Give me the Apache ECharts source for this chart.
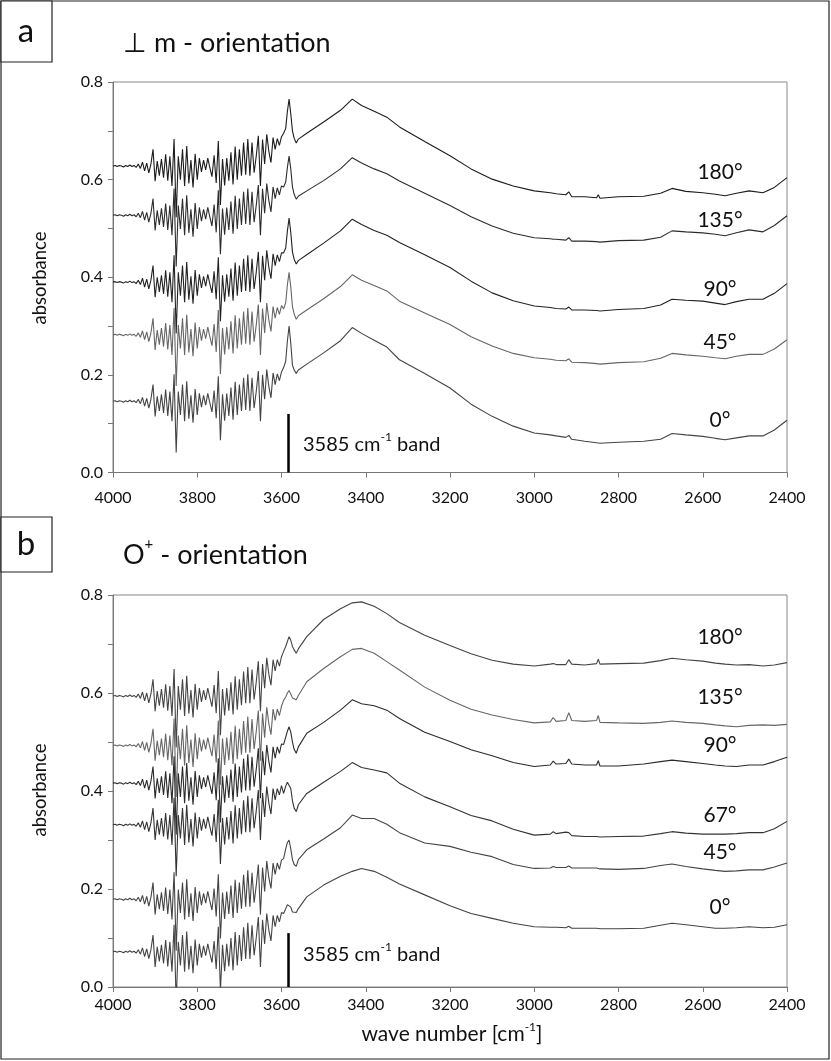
<!DOCTYPE html>
<html>
<head>
<meta charset="utf-8">
<title>IR spectra</title>
<script src="https://cdn.jsdelivr.net/npm/echarts@6/dist/echarts.min.js"></script>
<style>
  html, body { margin: 0; padding: 0; background: #fff; }
  #chart { width: 831px; height: 1061px; }
</style>
</head>
<body>
<div id="chart"></div>
<script>
// wave numbers (cm-1), shared by every spectrum
const wave = [
  4000, 3995, 3990, 3985, 3980, 3975, 3970, 3965, 3960, 3955,
  3950, 3945, 3940, 3935, 3930, 3925, 3920, 3915, 3910, 3905,
  3900, 3895, 3890, 3885, 3880, 3875, 3870, 3865, 3860, 3855,
  3850, 3845, 3840, 3835, 3830, 3825, 3820, 3815, 3810, 3805,
  3800, 3795, 3790, 3785, 3780, 3775, 3770, 3765, 3760, 3755,
  3750, 3745, 3740, 3735, 3730, 3725, 3720, 3715, 3710, 3705,
  3700, 3695, 3690, 3685, 3680, 3675, 3670, 3665, 3660, 3655,
  3650, 3645, 3640, 3635, 3630, 3625, 3620, 3615, 3610, 3605,
  3600,
  3595, 3590, 3586, 3582, 3578, 3574, 3570, 3565, 3560, 3540,
  3500, 3460, 3432, 3410, 3380, 3350, 3320, 3260, 3200, 3150,
  3100, 3050, 3000, 2962, 2955, 2948, 2925, 2918, 2911, 2880,
  2852, 2848, 2844, 2800, 2740, 2700, 2673, 2640, 2600, 2570,
  2547, 2520, 2490, 2457, 2430, 2400
]

// panel a : perpendicular to m
const a180 = [
  0.628, 0.629, 0.627, 0.629, 0.628, 0.626, 0.629, 0.627, 0.630, 0.627,
  0.629, 0.625, 0.632, 0.623, 0.636, 0.618, 0.634, 0.614, 0.632, 0.662,
  0.597, 0.638, 0.608, 0.642, 0.604, 0.652, 0.598, 0.648, 0.587, 0.683,
  0.523, 0.648, 0.600, 0.662, 0.587, 0.669, 0.592, 0.640, 0.584, 0.653,
  0.600, 0.644, 0.616, 0.640, 0.620, 0.644, 0.624, 0.606, 0.650, 0.593,
  0.679, 0.548, 0.642, 0.588, 0.644, 0.598, 0.656, 0.590, 0.668, 0.600,
  0.662, 0.608, 0.676, 0.610, 0.683, 0.608, 0.676, 0.614, 0.648, 0.690,
  0.587, 0.682, 0.632, 0.693, 0.658, 0.635, 0.686, 0.662, 0.684, 0.670,
  0.688,
  0.695, 0.705, 0.740, 0.765, 0.735, 0.700, 0.685, 0.675, 0.683, 0.695,
  0.718, 0.742, 0.765, 0.752, 0.740, 0.728, 0.708, 0.678, 0.649, 0.622,
  0.601, 0.587, 0.577, 0.573, 0.572, 0.571, 0.569, 0.575, 0.565, 0.565,
  0.563, 0.569, 0.562, 0.565, 0.566, 0.572, 0.582, 0.576, 0.573, 0.570,
  0.567, 0.572, 0.577, 0.573, 0.584, 0.604
]
const a135 = [
  0.527, 0.528, 0.526, 0.528, 0.527, 0.525, 0.528, 0.526, 0.529, 0.526,
  0.528, 0.524, 0.531, 0.522, 0.535, 0.517, 0.533, 0.513, 0.531, 0.561,
  0.496, 0.537, 0.507, 0.541, 0.503, 0.551, 0.497, 0.547, 0.486, 0.582,
  0.422, 0.547, 0.499, 0.561, 0.486, 0.568, 0.491, 0.539, 0.483, 0.552,
  0.499, 0.543, 0.515, 0.539, 0.519, 0.543, 0.523, 0.505, 0.549, 0.492,
  0.578, 0.447, 0.541, 0.487, 0.543, 0.497, 0.555, 0.489, 0.567, 0.499,
  0.561, 0.507, 0.575, 0.509, 0.582, 0.507, 0.575, 0.513, 0.547, 0.589,
  0.486, 0.581, 0.531, 0.592, 0.557, 0.534, 0.585, 0.561, 0.583, 0.569,
  0.587,
  0.585, 0.595, 0.625, 0.648, 0.622, 0.585, 0.570, 0.560, 0.566, 0.577,
  0.598, 0.622, 0.645, 0.634, 0.622, 0.612, 0.597, 0.572, 0.547, 0.524,
  0.505, 0.490, 0.481, 0.479, 0.478, 0.478, 0.476, 0.481, 0.474, 0.474,
  0.473, 0.477, 0.472, 0.475, 0.476, 0.482, 0.495, 0.493, 0.491, 0.488,
  0.485, 0.491, 0.497, 0.493, 0.506, 0.526
]
const a90 = [
  0.390, 0.391, 0.389, 0.391, 0.390, 0.388, 0.391, 0.389, 0.392, 0.389,
  0.391, 0.387, 0.394, 0.385, 0.398, 0.380, 0.396, 0.376, 0.394, 0.424,
  0.359, 0.400, 0.370, 0.404, 0.366, 0.414, 0.360, 0.410, 0.349, 0.445,
  0.285, 0.410, 0.362, 0.424, 0.349, 0.431, 0.354, 0.402, 0.346, 0.415,
  0.362, 0.406, 0.378, 0.402, 0.382, 0.406, 0.386, 0.368, 0.412, 0.355,
  0.441, 0.310, 0.404, 0.350, 0.406, 0.360, 0.418, 0.352, 0.430, 0.362,
  0.424, 0.370, 0.438, 0.372, 0.445, 0.370, 0.438, 0.376, 0.410, 0.452,
  0.349, 0.444, 0.394, 0.455, 0.420, 0.397, 0.448, 0.424, 0.446, 0.432,
  0.450,
  0.450, 0.460, 0.495, 0.521, 0.492, 0.452, 0.437, 0.427, 0.434, 0.446,
  0.470, 0.495, 0.519, 0.508, 0.496, 0.486, 0.471, 0.446, 0.420, 0.392,
  0.368, 0.352, 0.341, 0.338, 0.337, 0.336, 0.335, 0.339, 0.333, 0.333,
  0.332, 0.336, 0.331, 0.334, 0.336, 0.343, 0.355, 0.353, 0.351, 0.347,
  0.344, 0.350, 0.355, 0.355, 0.367, 0.387
]
const a45 = [
  0.282, 0.283, 0.281, 0.283, 0.282, 0.280, 0.283, 0.281, 0.284, 0.281,
  0.283, 0.279, 0.286, 0.277, 0.290, 0.272, 0.288, 0.268, 0.286, 0.316,
  0.251, 0.292, 0.262, 0.296, 0.258, 0.306, 0.252, 0.302, 0.241, 0.337,
  0.177, 0.302, 0.254, 0.316, 0.241, 0.323, 0.246, 0.294, 0.238, 0.307,
  0.254, 0.298, 0.270, 0.294, 0.274, 0.298, 0.278, 0.260, 0.304, 0.247,
  0.333, 0.202, 0.296, 0.242, 0.298, 0.252, 0.310, 0.244, 0.322, 0.254,
  0.316, 0.262, 0.330, 0.264, 0.337, 0.262, 0.330, 0.268, 0.302, 0.344,
  0.241, 0.336, 0.286, 0.347, 0.312, 0.289, 0.340, 0.316, 0.338, 0.324,
  0.342,
  0.335, 0.348, 0.385, 0.410, 0.380, 0.340, 0.325, 0.314, 0.321, 0.333,
  0.356, 0.381, 0.405, 0.394, 0.383, 0.372, 0.351, 0.327, 0.303, 0.278,
  0.259, 0.244, 0.235, 0.232, 0.231, 0.230, 0.229, 0.233, 0.226, 0.225,
  0.223, 0.227, 0.222, 0.225, 0.227, 0.234, 0.244, 0.241, 0.238, 0.235,
  0.233, 0.238, 0.242, 0.242, 0.253, 0.272
]
const a0 = [
  0.146, 0.147, 0.145, 0.147, 0.146, 0.144, 0.147, 0.145, 0.148, 0.145,
  0.147, 0.143, 0.150, 0.141, 0.154, 0.136, 0.152, 0.132, 0.150, 0.180,
  0.115, 0.156, 0.126, 0.160, 0.122, 0.170, 0.116, 0.166, 0.105, 0.201,
  0.041, 0.166, 0.118, 0.180, 0.105, 0.187, 0.110, 0.158, 0.102, 0.171,
  0.118, 0.162, 0.134, 0.158, 0.138, 0.162, 0.142, 0.124, 0.168, 0.111,
  0.197, 0.066, 0.160, 0.106, 0.162, 0.116, 0.174, 0.108, 0.186, 0.118,
  0.180, 0.126, 0.194, 0.128, 0.201, 0.126, 0.194, 0.132, 0.166, 0.208,
  0.105, 0.200, 0.150, 0.211, 0.176, 0.153, 0.204, 0.180, 0.202, 0.188,
  0.206,
  0.215, 0.228, 0.270, 0.300, 0.265, 0.220, 0.210, 0.203, 0.210, 0.222,
  0.245, 0.270, 0.297, 0.285, 0.271, 0.257, 0.231, 0.203, 0.173, 0.140,
  0.115, 0.095, 0.081, 0.077, 0.076, 0.075, 0.072, 0.076, 0.068, 0.064,
  0.061, 0.065, 0.060, 0.062, 0.064, 0.068, 0.080, 0.077, 0.074, 0.070,
  0.067, 0.071, 0.075, 0.075, 0.087, 0.107
]

// panel b : O+ orientation
const b180 = [
  0.594, 0.595, 0.593, 0.595, 0.594, 0.592, 0.595, 0.593, 0.596, 0.593,
  0.595, 0.591, 0.598, 0.589, 0.602, 0.584, 0.600, 0.580, 0.598, 0.628,
  0.563, 0.604, 0.574, 0.608, 0.570, 0.618, 0.564, 0.614, 0.553, 0.649,
  0.489, 0.614, 0.566, 0.628, 0.553, 0.635, 0.558, 0.606, 0.550, 0.619,
  0.566, 0.610, 0.582, 0.606, 0.586, 0.610, 0.590, 0.572, 0.616, 0.559,
  0.645, 0.514, 0.608, 0.554, 0.610, 0.564, 0.622, 0.556, 0.634, 0.566,
  0.628, 0.575, 0.644, 0.579, 0.653, 0.579, 0.648, 0.587, 0.622, 0.665,
  0.563, 0.659, 0.610, 0.672, 0.638, 0.616, 0.668, 0.645, 0.668, 0.655,
  0.674,
  0.685, 0.695, 0.705, 0.715, 0.708, 0.695, 0.688, 0.681, 0.690, 0.715,
  0.750, 0.772, 0.784, 0.786, 0.777, 0.762, 0.744, 0.718, 0.697, 0.680,
  0.667, 0.659, 0.655, 0.659, 0.660, 0.658, 0.658, 0.668, 0.659, 0.657,
  0.660, 0.669, 0.659, 0.660, 0.661, 0.666, 0.671, 0.668, 0.665, 0.661,
  0.659, 0.657, 0.658, 0.655, 0.657, 0.662
]
const b135 = [
  0.493, 0.494, 0.492, 0.494, 0.493, 0.491, 0.494, 0.492, 0.495, 0.492,
  0.494, 0.490, 0.497, 0.488, 0.501, 0.483, 0.499, 0.479, 0.497, 0.527,
  0.462, 0.503, 0.473, 0.507, 0.469, 0.517, 0.463, 0.513, 0.452, 0.548,
  0.388, 0.513, 0.465, 0.527, 0.452, 0.534, 0.457, 0.505, 0.449, 0.518,
  0.465, 0.509, 0.481, 0.505, 0.485, 0.509, 0.489, 0.471, 0.515, 0.458,
  0.544, 0.413, 0.507, 0.453, 0.509, 0.463, 0.521, 0.455, 0.533, 0.465,
  0.527, 0.474, 0.543, 0.478, 0.552, 0.478, 0.547, 0.486, 0.521, 0.564,
  0.462, 0.558, 0.509, 0.571, 0.537, 0.515, 0.567, 0.544, 0.567, 0.554,
  0.573,
  0.585, 0.592, 0.600, 0.605, 0.598, 0.590, 0.588, 0.586, 0.595, 0.623,
  0.650, 0.674, 0.689, 0.691, 0.681, 0.664, 0.647, 0.612, 0.585, 0.567,
  0.555, 0.546, 0.539, 0.541, 0.550, 0.542, 0.544, 0.560, 0.544, 0.542,
  0.544, 0.554, 0.540, 0.539, 0.538, 0.540, 0.543, 0.540, 0.538, 0.535,
  0.533, 0.531, 0.534, 0.535, 0.534, 0.536
]
const b90 = [
  0.416, 0.417, 0.415, 0.417, 0.416, 0.414, 0.417, 0.415, 0.418, 0.415,
  0.417, 0.413, 0.420, 0.411, 0.424, 0.406, 0.422, 0.402, 0.420, 0.450,
  0.385, 0.426, 0.396, 0.430, 0.392, 0.440, 0.386, 0.436, 0.375, 0.471,
  0.311, 0.436, 0.388, 0.450, 0.375, 0.457, 0.380, 0.428, 0.372, 0.441,
  0.388, 0.432, 0.404, 0.428, 0.408, 0.432, 0.412, 0.394, 0.438, 0.381,
  0.467, 0.336, 0.430, 0.376, 0.432, 0.386, 0.444, 0.378, 0.456, 0.388,
  0.450, 0.397, 0.466, 0.401, 0.475, 0.401, 0.470, 0.409, 0.444, 0.487,
  0.385, 0.481, 0.432, 0.494, 0.460, 0.438, 0.490, 0.467, 0.490, 0.477,
  0.496,
  0.495, 0.510, 0.522, 0.531, 0.520, 0.500, 0.485, 0.477, 0.490, 0.518,
  0.540, 0.565, 0.586, 0.578, 0.574, 0.565, 0.548, 0.520, 0.501, 0.484,
  0.472, 0.458, 0.450, 0.453, 0.461, 0.455, 0.456, 0.465, 0.455, 0.453,
  0.453, 0.462, 0.451, 0.451, 0.455, 0.460, 0.463, 0.460, 0.456, 0.453,
  0.451, 0.450, 0.453, 0.453, 0.460, 0.469
]
const b67 = [
  0.331, 0.332, 0.330, 0.332, 0.331, 0.329, 0.332, 0.330, 0.333, 0.330,
  0.332, 0.328, 0.335, 0.326, 0.339, 0.321, 0.337, 0.317, 0.335, 0.365,
  0.300, 0.341, 0.311, 0.345, 0.307, 0.355, 0.301, 0.351, 0.290, 0.386,
  0.226, 0.351, 0.303, 0.365, 0.290, 0.372, 0.295, 0.343, 0.287, 0.356,
  0.303, 0.347, 0.319, 0.343, 0.323, 0.347, 0.327, 0.309, 0.353, 0.296,
  0.382, 0.251, 0.345, 0.291, 0.347, 0.301, 0.359, 0.293, 0.371, 0.303,
  0.365, 0.312, 0.381, 0.316, 0.390, 0.316, 0.385, 0.324, 0.359, 0.402,
  0.300, 0.396, 0.347, 0.409, 0.375, 0.353, 0.405, 0.382, 0.405, 0.392,
  0.411,
  0.395, 0.410, 0.418, 0.422, 0.405, 0.380, 0.365, 0.358, 0.372, 0.395,
  0.418, 0.440, 0.458, 0.448, 0.443, 0.437, 0.416, 0.388, 0.368, 0.350,
  0.339, 0.322, 0.310, 0.312, 0.317, 0.313, 0.316, 0.315, 0.309, 0.307,
  0.307, 0.309, 0.306, 0.307, 0.308, 0.313, 0.317, 0.314, 0.312, 0.312,
  0.312, 0.313, 0.315, 0.315, 0.323, 0.338
]
const b45 = [
  0.179, 0.180, 0.178, 0.180, 0.179, 0.177, 0.180, 0.178, 0.181, 0.178,
  0.180, 0.176, 0.183, 0.174, 0.187, 0.169, 0.185, 0.165, 0.183, 0.213,
  0.148, 0.189, 0.159, 0.193, 0.155, 0.203, 0.149, 0.199, 0.138, 0.234,
  0.074, 0.199, 0.151, 0.213, 0.138, 0.220, 0.143, 0.191, 0.135, 0.204,
  0.151, 0.195, 0.167, 0.191, 0.171, 0.195, 0.175, 0.157, 0.201, 0.144,
  0.230, 0.099, 0.193, 0.139, 0.195, 0.149, 0.207, 0.141, 0.219, 0.151,
  0.213, 0.160, 0.229, 0.164, 0.238, 0.164, 0.233, 0.172, 0.207, 0.250,
  0.148, 0.244, 0.195, 0.257, 0.223, 0.201, 0.253, 0.230, 0.253, 0.240,
  0.259,
  0.262, 0.282, 0.295, 0.300, 0.282, 0.260, 0.250, 0.246, 0.260, 0.280,
  0.302, 0.325, 0.351, 0.344, 0.344, 0.332, 0.315, 0.294, 0.287, 0.275,
  0.266, 0.250, 0.242, 0.243, 0.246, 0.244, 0.244, 0.247, 0.243, 0.243,
  0.243, 0.246, 0.241, 0.240, 0.242, 0.248, 0.251, 0.246, 0.241, 0.238,
  0.236, 0.237, 0.239, 0.239, 0.245, 0.253
]
const b0 = [
  0.072, 0.073, 0.071, 0.073, 0.072, 0.070, 0.073, 0.071, 0.074, 0.071,
  0.073, 0.069, 0.076, 0.067, 0.080, 0.062, 0.078, 0.058, 0.076, 0.106,
  0.041, 0.082, 0.052, 0.086, 0.048, 0.096, 0.042, 0.092, 0.031, 0.127,
  -0.033, 0.092, 0.044, 0.106, 0.031, 0.113, 0.036, 0.084, 0.028, 0.097,
  0.044, 0.088, 0.060, 0.084, 0.064, 0.088, 0.068, 0.050, 0.094, 0.037,
  0.123, -0.008, 0.086, 0.032, 0.088, 0.042, 0.100, 0.034, 0.112, 0.044,
  0.106, 0.053, 0.122, 0.057, 0.131, 0.057, 0.126, 0.065, 0.100, 0.143,
  0.041, 0.137, 0.088, 0.150, 0.116, 0.094, 0.146, 0.123, 0.146, 0.133,
  0.152,
  0.150, 0.160, 0.168, 0.171, 0.163, 0.153, 0.150, 0.152, 0.160, 0.184,
  0.208, 0.226, 0.236, 0.242, 0.236, 0.224, 0.210, 0.188, 0.166, 0.150,
  0.140, 0.130, 0.123, 0.122, 0.122, 0.122, 0.121, 0.124, 0.120, 0.120,
  0.120, 0.123, 0.119, 0.119, 0.120, 0.126, 0.130, 0.127, 0.123, 0.120,
  0.120, 0.121, 0.123, 0.121, 0.122, 0.127
]

const bandWave = 3585
const bandTop = [0.12, 0.11]

const font = 'Lato, "Open Sans", sans-serif'

function spectrum(name, values, idx, color) {
  return {
    name: name,
    type: 'line',
    xAxisIndex: idx,
    yAxisIndex: idx,
    data: wave.map((w, i) => [w, values[i]]),
    showSymbol: false,
    silent: true,
    lineStyle: { width: 1.1, color: color }
  }
}

function xAxisOf(idx, margin) {
  return {
    gridIndex: idx,
    type: 'value',
    inverse: true,
    min: 2400,
    max: 4000,
    interval: 200,
    axisLine: { lineStyle: { color: '#777', width: 1 } },
    axisTick: { show: true, length: 5, lineStyle: { color: '#777' } },
    axisLabel: { color: '#111', fontSize: 16, fontFamily: font, margin: margin, formatter: v => String(v) },
    splitLine: { show: false }
  }
}

function yAxisOf(idx) {
  return {
    gridIndex: idx,
    type: 'value',
    min: 0,
    max: 0.8,
    interval: 0.1,
    axisLine: { show: true, lineStyle: { color: '#777', width: 1 } },
    axisTick: { show: true, length: 5, lineStyle: { color: '#777' } },
    axisLabel: {
      color: '#111',
      fontSize: 16,
      fontFamily: font,
      margin: 10,
      formatter: v => (Math.round(v * 10) % 2 === 0 ? v.toFixed(1) : '')
    },
    splitLine: { show: false }
  }
}

function bandLine(idx) {
  return {
    silent: true,
    symbol: 'none',
    label: { show: false },
    lineStyle: { color: '#000', width: 2.5, type: 'solid' },
    data: [[{ coord: [bandWave, 0] }, { coord: [bandWave, bandTop[idx]] }]]
  }
}

function text(x, y, str, size, extra) {
  return {
    type: 'text',
    x: x,
    y: y,
    style: Object.assign({
      text: str,
      fontSize: size,
      fontFamily: font,
      fill: '#111',
      textVerticalAlign: 'middle'
    }, extra || {})
  }
}

const sup = { fontSize: 12, fontFamily: font, fill: '#111', verticalAlign: 'top', lineHeight: 24 }
const norm = (size) => ({ fontSize: size, fontFamily: font, fill: '#111', verticalAlign: 'bottom', lineHeight: 24 })

const angleLabels = [
  ['180°', 172], ['135°', 220], ['90°', 289], ['45°', 342], ['0°', 420],
  ['180°', 637], ['135°', 697], ['90°', 745], ['67°', 815], ['45°', 852], ['0°', 907]
]

const options = {
  backgroundColor: '#fff',
  animation: false,
  grid: [
    { left: 113, right: 44, top: 82, height: 390.5, show: true, borderColor: '#888', borderWidth: 1 },
    { left: 113, right: 44, top: 595, height: 392, show: true, borderColor: '#888', borderWidth: 1 }
  ],
  xAxis: [xAxisOf(0, 17), xAxisOf(1, 10)],
  yAxis: [yAxisOf(0), yAxisOf(1)],
  series: [
    Object.assign(spectrum('180°', a180, 0, '#1c1c1c'), { markLine: bandLine(0) }),
    spectrum('135°', a135, 0, '#2c2c2c'),
    spectrum('90°', a90, 0, '#222'),
    spectrum('45°', a45, 0, '#666'),
    spectrum('0°', a0, 0, '#444'),
    Object.assign(spectrum('180°', b180, 1, '#444'), { markLine: bandLine(1) }),
    spectrum('135°', b135, 1, '#666'),
    spectrum('90°', b90, 1, '#2a2a2a'),
    spectrum('67°', b67, 1, '#333'),
    spectrum('45°', b45, 1, '#444'),
    spectrum('0°', b0, 1, '#444')
  ],
  graphic: [
    // outer frame and panel letters
    { type: 'rect', shape: { x: 1, y: 1, width: 828, height: 1058 }, style: { fill: 'none', stroke: '#222', lineWidth: 1.2 } },
    { type: 'rect', shape: { x: 1, y: 1, width: 51, height: 61 }, style: { fill: '#fff', stroke: '#222', lineWidth: 1.2 } },
    { type: 'rect', shape: { x: 1, y: 517, width: 51, height: 55 }, style: { fill: '#fff', stroke: '#222', lineWidth: 1.2 } },
    text(26, 31, 'a', 33, { textAlign: 'center' }),
    text(26, 544, 'b', 33, { textAlign: 'center' }),
    text(123, 43, '⊥ m - orientation', 27),
    {
      type: 'text', x: 123, y: 553,
      style: {
        text: '{n|O}{s|+}{n| - orientation}',
        textVerticalAlign: 'middle',
        rich: { n: Object.assign(norm(27), { lineHeight: 32 }), s: Object.assign({}, sup, { fontSize: 15, lineHeight: 32 }) }
      }
    },
    // axis titles
    { type: 'text', x: 40, y: 278, rotation: Math.PI / 2, style: { text: 'absorbance', fontSize: 18.5, fontFamily: font, fill: '#111', textAlign: 'center', textVerticalAlign: 'middle' } },
    { type: 'text', x: 40, y: 790, rotation: Math.PI / 2, style: { text: 'absorbance', fontSize: 18.5, fontFamily: font, fill: '#111', textAlign: 'center', textVerticalAlign: 'middle' } },
    {
      type: 'text', x: 452, y: 1033,
      style: {
        text: '{n|wave number [cm}{s|-1}{n|]}',
        textAlign: 'center',
        textVerticalAlign: 'middle',
        rich: { n: norm(21), s: sup }
      }
    },
    // band annotation
    {
      type: 'text', x: 303, y: 443,
      style: { text: '{n|3585 cm}{s|-1}{n| band}', textVerticalAlign: 'middle', rich: { n: norm(20), s: sup } }
    },
    {
      type: 'text', x: 303, y: 953,
      style: { text: '{n|3585 cm}{s|-1}{n| band}', textVerticalAlign: 'middle', rich: { n: norm(20), s: sup } }
    }
  ].concat(angleLabels.map(l => text(720, l[1], l[0], 21, { textAlign: 'center' })))
}

const chart = echarts.init(document.getElementById('chart'), null, { renderer: 'canvas' })
chart.setOption(options)
</script>
</body>
</html>
